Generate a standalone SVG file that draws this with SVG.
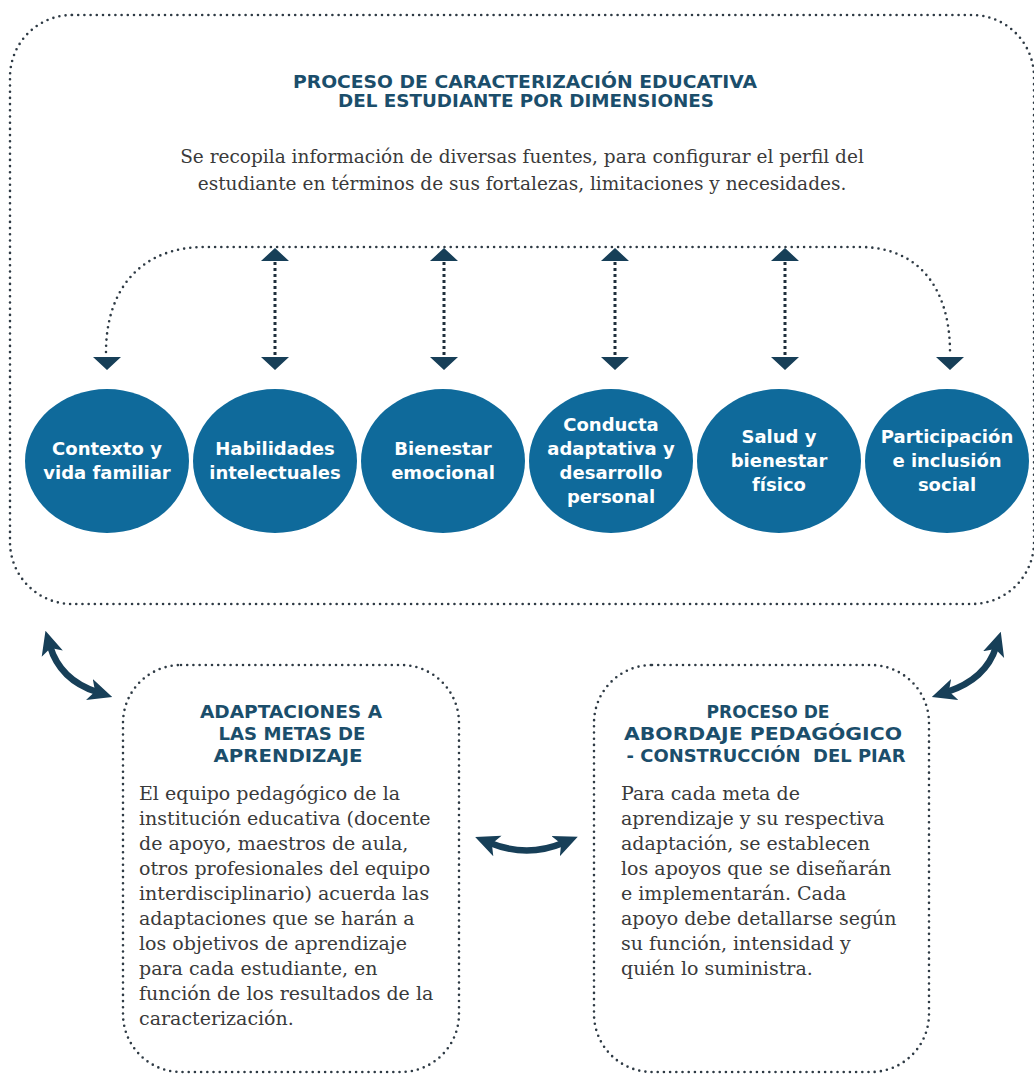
<svg xmlns="http://www.w3.org/2000/svg" width="1034" height="1074" viewBox="0 0 1034 1074">
<style>
.dot{fill:none;stroke:#2e3a44;stroke-width:2.6;stroke-linecap:round;stroke-dasharray:0 6.2}
.vdot{fill:none;stroke:#1f2f3c;stroke-width:3;stroke-linecap:butt;stroke-dasharray:3 3}
.tri{fill:#173f58}
.arr{fill:none;stroke:#173f58;stroke-width:6.5}
.circ{fill:#0f6a9b}
.ct{font-family:"DejaVu Sans",Lato,sans-serif;font-weight:700;font-size:18px;fill:#ffffff;text-anchor:middle}
.ttl{font-family:"DejaVu Sans","Open Sans",sans-serif;font-weight:700;font-size:18px;fill:#1b4e6b;text-anchor:middle}
.body{font-family:"DejaVu Serif",serif;font-size:19px;fill:#3a3a3a}
.sub{font-family:"DejaVu Serif",serif;font-size:18.5px;fill:#3a3a3a;text-anchor:middle}
</style>
<defs>
<marker id="head" markerUnits="userSpaceOnUse" viewBox="0 0 24 24" markerWidth="24" markerHeight="24" refX="8" refY="12" orient="auto-start-reverse">
<path d="M0,1 L24,12 L0,23 L6,12 Z" fill="#173f58"/>
</marker>
</defs>
<rect width="1034" height="1074" fill="#ffffff"/>

<g id="top-process">
<rect class="dot" x="10" y="15" width="1024" height="589" rx="62" ry="62"/>
<text class="ttl" x="525" y="88" textLength="464" lengthAdjust="spacingAndGlyphs">PROCESO DE CARACTERIZACIÓN EDUCATIVA</text>
<text class="ttl" x="526" y="107" textLength="376" lengthAdjust="spacingAndGlyphs">DEL ESTUDIANTE POR DIMENSIONES</text>
<text class="sub" x="522" y="163">Se recopila información de diversas fuentes, para configurar el perfil del</text>
<text class="sub" x="522" y="190">estudiante en términos de sus fortalezas, limitaciones y necesidades.</text>
</g>

<g id="dim-contexto">
<ellipse class="circ" cx="107" cy="461" rx="82" ry="72"/>
<text class="ct" x="107" y="455">Contexto y</text>
<text class="ct" x="107" y="479">vida familiar</text>
</g>
<g id="dim-habilidades">
<ellipse class="circ" cx="275" cy="461" rx="82" ry="72"/>
<text class="ct" x="275" y="455">Habilidades</text>
<text class="ct" x="275" y="479">intelectuales</text>
</g>
<g id="dim-bienestar">
<ellipse class="circ" cx="443" cy="461" rx="82" ry="72"/>
<text class="ct" x="443" y="455">Bienestar</text>
<text class="ct" x="443" y="479">emocional</text>
</g>
<g id="dim-conducta">
<ellipse class="circ" cx="611" cy="461" rx="82" ry="72"/>
<text class="ct" x="611" y="431">Conducta</text>
<text class="ct" x="611" y="455">adaptativa y</text>
<text class="ct" x="611" y="479">desarrollo</text>
<text class="ct" x="611" y="503">personal</text>
</g>
<g id="dim-salud">
<ellipse class="circ" cx="779" cy="461" rx="82" ry="72"/>
<text class="ct" x="779" y="443">Salud y</text>
<text class="ct" x="779" y="467">bienestar</text>
<text class="ct" x="779" y="491">físico</text>
</g>
<g id="dim-participacion">
<ellipse class="circ" cx="947" cy="461" rx="82" ry="72"/>
<text class="ct" x="947" y="443">Participación</text>
<text class="ct" x="947" y="467">e inclusión</text>
<text class="ct" x="947" y="491">social</text>
</g>

<g id="adaptaciones">
<rect class="dot" x="123" y="665" width="336" height="407" rx="58" ry="58"/>
<text class="ttl" x="291" y="718" textLength="182" lengthAdjust="spacingAndGlyphs">ADAPTACIONES A</text>
<text class="ttl" x="292" y="740" textLength="147" lengthAdjust="spacingAndGlyphs">LAS METAS DE</text>
<text class="ttl" x="288" y="762" textLength="149" lengthAdjust="spacingAndGlyphs">APRENDIZAJE</text>
<text class="body" x="139" y="800">El equipo pedagógico de la</text>
<text class="body" x="139" y="825">institución educativa (docente</text>
<text class="body" x="139" y="850">de apoyo, maestros de aula,</text>
<text class="body" x="139" y="875">otros profesionales del equipo</text>
<text class="body" x="139" y="900">interdisciplinario) acuerda las</text>
<text class="body" x="139" y="925">adaptaciones que se harán a</text>
<text class="body" x="139" y="950">los objetivos de aprendizaje</text>
<text class="body" x="139" y="975">para cada estudiante, en</text>
<text class="body" x="139" y="1000">función de los resultados de la</text>
<text class="body" x="139" y="1025">caracterización.</text>
</g>

<g id="abordaje">
<rect class="dot" x="594" y="665" width="335" height="407" rx="58" ry="58"/>
<text class="ttl" x="768" y="718" textLength="123" lengthAdjust="spacingAndGlyphs">PROCESO DE</text>
<text class="ttl" x="763" y="740" textLength="278" lengthAdjust="spacingAndGlyphs">ABORDAJE PEDAGÓGICO</text>
<text class="ttl" x="766" y="762" textLength="279" lengthAdjust="spacingAndGlyphs" xml:space="preserve">- CONSTRUCCIÓN  DEL PIAR</text>
<text class="body" x="621" y="800">Para cada meta de</text>
<text class="body" x="621" y="825">aprendizaje y su respectiva</text>
<text class="body" x="621" y="850">adaptación, se establecen</text>
<text class="body" x="621" y="875">los apoyos que se diseñarán</text>
<text class="body" x="621" y="900">e implementarán. Cada</text>
<text class="body" x="621" y="925">apoyo debe detallarse según</text>
<text class="body" x="621" y="950">su función, intensidad y</text>
<text class="body" x="621" y="975">quién lo suministra.</text>
</g>

<g id="connectors">
<path class="dot" d="M106,352 C106,290 140,247 205,247 L860,247 C920,247 950,290 950,352"/>
<path class="vdot" d="M275,262 V356 M444,262 V356 M615,262 V356 M785,262 V356"/>
<path class="tri" d="M261,261 L275,248 L289,261 Z M430,261 L444,248 L458,261 Z M601,261 L615,248 L629,261 Z M771,261 L785,248 L799,261 Z"/>
<path class="tri" d="M93,357 L121,357 L107,370 Z M261,357 L289,357 L275,370 Z M430,357 L458,357 L444,370 Z M601,357 L629,357 L615,370 Z M771,357 L799,357 L785,370 Z M936,357 L964,357 L950,370 Z"/>
<path class="arr" d="M50,646 Q60,680 97,692" marker-start="url(#head)" marker-end="url(#head)"/>
<path class="arr" d="M947,692 Q986,679 996,647" marker-start="url(#head)" marker-end="url(#head)"/>
<path class="arr" d="M490,843 Q527,858 563,843" marker-start="url(#head)" marker-end="url(#head)"/>
</g>
</svg>
